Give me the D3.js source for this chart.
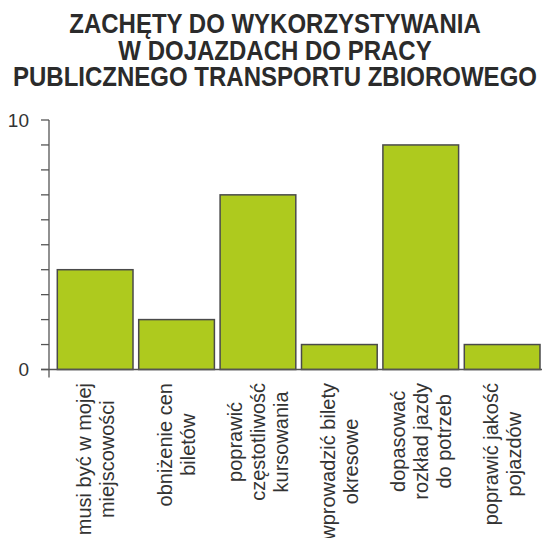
<!DOCTYPE html>
<html>
<head>
<meta charset="utf-8">
<script src="https://cdn.jsdelivr.net/npm/d3@7"></script>
<style>
body{margin:0;background:#fff;}
svg{display:block;font-family:"Liberation Sans",Arial,sans-serif;}
</style>
</head>
<body>
<script>
var width=542,height=538;

var titleLines=["ZACHĘTY DO WYKORZYSTYWANIA","W DOJAZDACH DO PRACY","PUBLICZNEGO TRANSPORTU ZBIOROWEGO"];
var categories=[
	["musi być w mojej","miejscowości"],
	["obniżenie cen","biletów"],
	["poprawić","częstotliwość","kursowania"],
	["wprowadzić bilety","okresowe"],
	["dopasować","rozkład jazdy","do potrzeb"],
	["poprawić jakość","pojazdów"]
];
var values=[4,2,7,1,9,1];
var yTickLabels=[0,10];

var svg=d3.select("body").append("svg")
	.attr("width",width)
	.attr("height",height);

// title (slightly stretched vertically like the original)
svg.append("g").selectAll("text")
	.data(titleLines)
	.enter().append("text")
	.attr("transform",function(d,i){return "translate(275,"+(33+i*26.5)+") scale(1,1.15)";})
	.attr("text-anchor","middle")
	.attr("font-size",24)
	.attr("font-weight","bold")
	.attr("fill","#2b2b2b")
	.text(function(d){return d;});

var x=d3.scaleBand()
	.domain(d3.range(categories.length))
	.range([49,548.3])
	.paddingInner(0.07)
	.paddingOuter(0.102);

var y=d3.scaleLinear().domain([0,10]).range([369.5,120]);

// minor ticks every unit
svg.append("g").selectAll("line")
	.data(d3.range(0,11))
	.enter().append("line")
	.attr("x1",41).attr("x2",49)
	.attr("y1",function(d){return y(d);})
	.attr("y2",function(d){return y(d);})
	.attr("stroke","#555").attr("stroke-width",1.3);

svg.append("line")
	.attr("x1",49).attr("x2",49)
	.attr("y1",y(10)).attr("y2",y(0)+8)
	.attr("stroke","#555").attr("stroke-width",1.3);

svg.append("g").selectAll("text")
	.data(yTickLabels)
	.enter().append("text")
	.attr("x",29)
	.attr("y",function(d){return y(d);})
	.attr("dy","0.35em")
	.attr("text-anchor","end")
	.attr("font-size",19)
	.attr("fill","#333")
	.text(function(d){return d;});

// bars
svg.append("g").selectAll("rect")
	.data(values)
	.enter().append("rect")
	.attr("x",function(d,i){return x(i);})
	.attr("y",function(d){return y(d);})
	.attr("width",x.bandwidth())
	.attr("height",function(d){return y(0)-y(d);})
	.attr("fill","#aeca1e")
	.attr("stroke","#4a4a4a")
	.attr("stroke-width",1.5);

// baseline
svg.append("line")
	.attr("x1",41).attr("x2",width)
	.attr("y1",y(0)).attr("y2",y(0))
	.attr("stroke","#555").attr("stroke-width",1.3);

// category labels, rotated; longest line starts just under the axis
var fs=20,lh=23,labelTop=383;
categories.forEach(function(lines,i){
	var cx=x(i)+x.bandwidth()/2;
	var g=svg.append("g");
	var texts=g.selectAll("text")
		.data(lines)
		.enter().append("text")
		.attr("font-size",fs)
		.attr("fill","#333")
		.attr("text-anchor","middle")
		.text(function(d){return d;});
	var maxW=0;
	texts.each(function(){maxW=Math.max(maxW,this.getComputedTextLength());});
	var cy=labelTop+maxW/2;
	texts.attr("transform",function(d,j){
		var bx=cx+(j-(lines.length-1)/2)*lh+0.35*fs;
		return "translate("+bx+","+cy+") rotate(-90)";
	});
});
</script>
</body>
</html>
